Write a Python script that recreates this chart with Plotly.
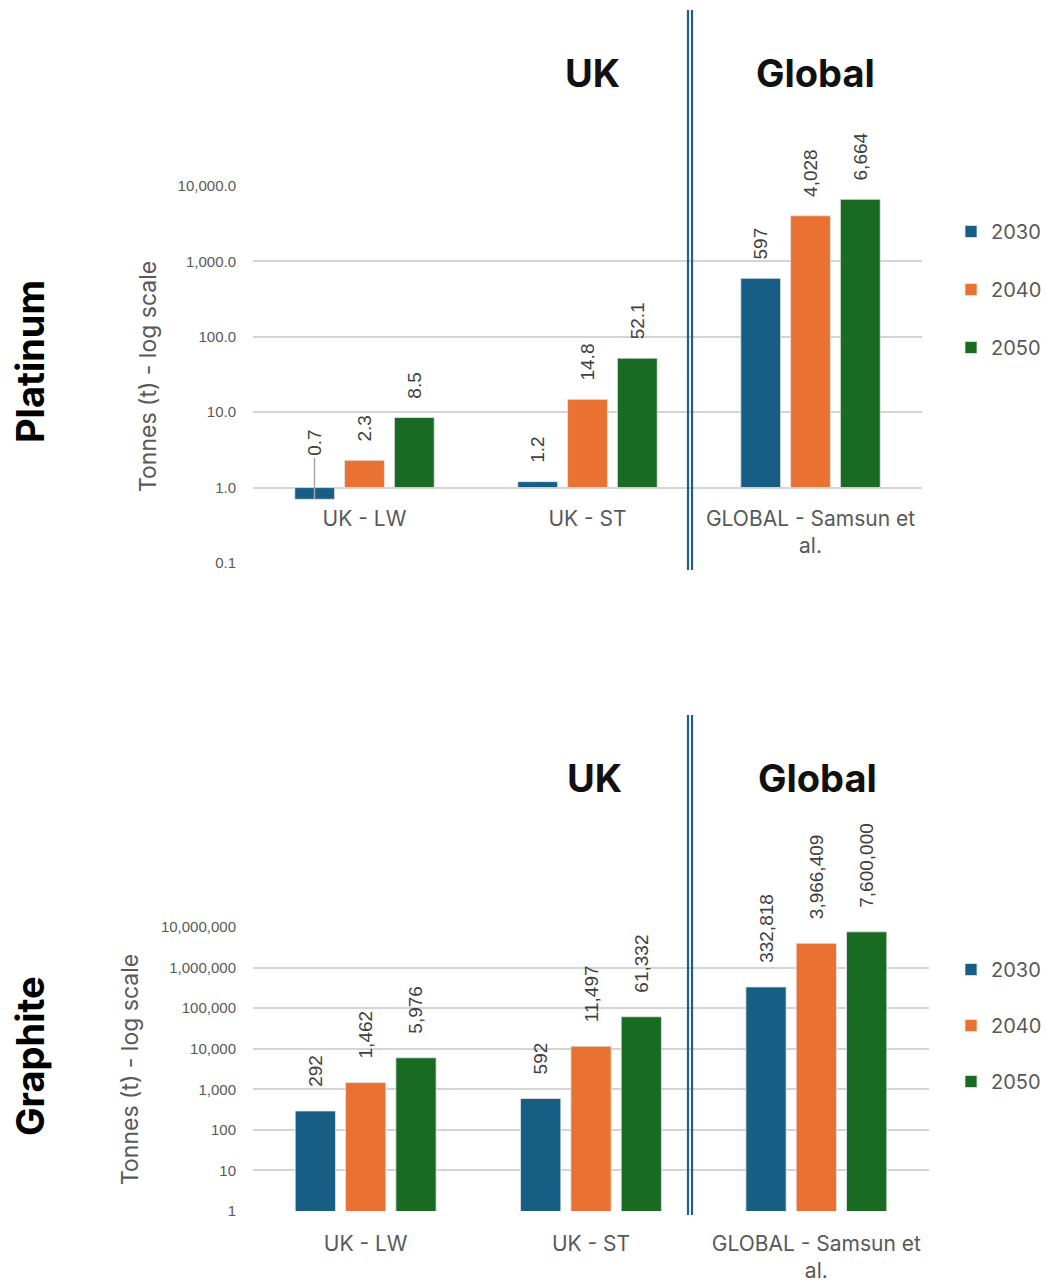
import numpy as np
import plotly.graph_objects as go

# ---------------- data ----------------
categories = ["UK - LW", "UK - ST", "GLOBAL - Samsun et al."]
category_ticktext = ["UK - LW", "UK - ST", "GLOBAL - Samsun et<br>al."]
years = ["2030", "2040", "2050"]

platinum_2030 = [0.7, 1.2, 597]
platinum_2040 = [2.3, 14.8, 4028]
platinum_2050 = [8.5, 52.1, 6664]

graphite_2030 = [292, 592, 332818]
graphite_2040 = [1462, 11497, 3966409]
graphite_2050 = [5976, 61332, 7600000]

platinum_ticks = [0.1, 1, 10, 100, 1000, 10000]
graphite_ticks = [1, 10, 100, 1000, 10000, 100000, 1000000, 10000000]

colors = {"2030": "#175E84", "2040": "#E97132", "2050": "#196B24"}

# ---------------- helpers ----------------
W, H = 1046, 1282
def fx(p):
    return p / W
def fy(p):
    return 1 - p / H

def fmt_pt(v):
    return f"{v:.1f}" if v < 100 else f"{v:,.0f}"

NBSP = "\u00a0"
PT_PAD = NBSP * 3   # gap between bar end and its (rotated) label
GR_PAD = NBSP * 4

GRAY = "#595959"
LABEL_FONT = "Liberation Sans, Arial, sans-serif"
TEXT_FONT = "Inter, Open Sans, sans-serif"

fig = go.Figure()

plat = {"2030": platinum_2030, "2040": platinum_2040, "2050": platinum_2050}
graph = {"2030": graphite_2030, "2040": graphite_2040, "2050": graphite_2050}

PT_BASE = 1.0  # category axis crosses at 1.0 on the platinum chart

for yr in years:
    vals = plat[yr]
    texts = [PT_PAD + fmt_pt(v) if v >= PT_BASE else "" for v in vals]
    fig.add_trace(go.Bar(
        x=categories, y=[v - PT_BASE for v in vals], base=PT_BASE,
        name=yr, marker=dict(color=colors[yr], line=dict(color="#E6E6E6", width=0.8)),
        text=texts, textposition="outside", textangle=-90, constraintext="none",
        textfont=dict(family=LABEL_FONT, size=19, color="#404040"),
        cliponaxis=False, xaxis="x", yaxis="y", legend="legend",
        legendgroup="p" + yr, customdata=vals,
        hovertemplate="%{x}<br>%{customdata}<extra>" + yr + "</extra>",
    ))

for yr in years:
    vals = graph[yr]
    fig.add_trace(go.Bar(
        x=categories, y=vals,
        name=yr, marker=dict(color=colors[yr], line=dict(color="#E6E6E6", width=0.8)),
        text=[GR_PAD + f"{v:,.0f}" for v in vals], textposition="outside", textangle=-90,
        constraintext="none",
        textfont=dict(family=LABEL_FONT, size=19, color="#404040"),
        cliponaxis=False, xaxis="x2", yaxis="y2", legend="legend2",
        legendgroup="g" + yr,
        hovertemplate="%{x}<br>%{y:,}<extra>" + yr + "</extra>",
    ))

top_dom = [fy(563), fy(186)]
bot_dom = [fy(1211), fy(927)]
pt_range = [np.log10(platinum_ticks[0]), np.log10(platinum_ticks[-1])]
gr_range = [np.log10(graphite_ticks[0]), np.log10(graphite_ticks[-1])]
cross_pos = top_dom[0] + (np.log10(PT_BASE) - pt_range[0]) / (pt_range[1] - pt_range[0]) * (top_dom[1] - top_dom[0])

grid = dict(showgrid=True, gridcolor="#D4D4D4", gridwidth=2, zeroline=False, showline=False,
            automargin=False)

fig.update_layout(
    width=W, height=H, margin=dict(l=0, r=0, t=0, b=0, autoexpand=False),
    paper_bgcolor="white", plot_bgcolor="white",
    barmode="group", bargap=0.33, bargroupgap=0.2,
    showlegend=True,
    xaxis=dict(domain=[fx(253), fx(922)], anchor="free", position=cross_pos,
               type="category", tickvals=categories, ticktext=category_ticktext,
               tickfont=dict(family=TEXT_FONT, size=21, color=GRAY),
               showgrid=False, zeroline=False, showline=False, ticks="",
               ticklabelstandoff=16, automargin=False),
    yaxis=dict(domain=top_dom, anchor="x", type="log", range=pt_range,
               tickvals=platinum_ticks, ticktext=[f"{t:,.1f}" for t in platinum_ticks],
               tickfont=dict(family=LABEL_FONT, size=15, color=GRAY),
               ticklabelstandoff=16, **grid),
    xaxis2=dict(domain=[fx(253), fx(929)], anchor="y2",
                type="category", tickvals=categories, ticktext=category_ticktext,
                tickfont=dict(family=TEXT_FONT, size=21, color=GRAY),
                showgrid=False, zeroline=False, showline=False, ticks="",
                ticklabelstandoff=18, automargin=False),
    yaxis2=dict(domain=bot_dom, anchor="x2", type="log", range=gr_range,
                tickvals=graphite_ticks, ticktext=[f"{t:,.0f}" for t in graphite_ticks],
                tickfont=dict(family=LABEL_FONT, size=15, color=GRAY),
                ticklabelstandoff=16, **grid),
    legend=dict(x=fx(951), y=fy(212), xanchor="left", yanchor="top",
                font=dict(family=TEXT_FONT, size=20, color=GRAY),
                tracegroupgap=29, bgcolor="rgba(0,0,0,0)", itemwidth=30),
    legend2=dict(x=fx(951), y=fy(950), xanchor="left", yanchor="top",
                 font=dict(family=TEXT_FONT, size=20, color=GRAY),
                 tracegroupgap=27, bgcolor="rgba(0,0,0,0)", itemwidth=30),
)

# separators (double vertical lines)
sep_color = "#1F5F85"
for (y0, y1, xs) in [(570, 10, (688, 692)), (1215, 715, (688, 692))]:
    for xp in xs:
        fig.add_shape(type="line", xref="paper", yref="paper",
                      x0=fx(xp), x1=fx(xp), y0=fy(y0), y1=fy(y1),
                      line=dict(color=sep_color, width=2.2))

ann = []
# section titles
for txt, xp, yp in [("UK", 592, 73), ("Global", 815, 73), ("UK", 594, 778), ("Global", 817, 778)]:
    ann.append(dict(text="<b>" + txt + "</b>", x=fx(xp), y=fy(yp), xref="paper", yref="paper",
                    showarrow=False, font=dict(family=TEXT_FONT, size=38, color="#111111"),
                    xanchor="center", yanchor="middle"))
# mineral labels
for txt, yp in [("Platinum", 362), ("Graphite", 1056)]:
    ann.append(dict(text="<b>" + txt + "</b>", x=fx(30), y=fy(yp), xref="paper", yref="paper",
                    showarrow=False, textangle=-90, font=dict(family=TEXT_FONT, size=38, color="#000000"),
                    xanchor="center", yanchor="middle"))
# axis titles
for xp, yp in [(148, 377), (130, 1070)]:
    ann.append(dict(text="Tonnes (t) - log scale", x=fx(xp), y=fy(yp), xref="paper", yref="paper",
                    showarrow=False, textangle=-90, font=dict(family=TEXT_FONT, size=23, color=GRAY),
                    xanchor="center", yanchor="middle"))
# label for the bar below the axis crossing
small_v = platinum_2030[0]
ann.append(dict(text=fmt_pt(small_v), x=categories[0], y=np.log10(small_v), xref="x", yref="y",
                xshift=-50, showarrow=True, arrowhead=0, arrowwidth=1.5, arrowcolor="#A6A6A6",
                ax=0, ay=-56, textangle=-90,
                font=dict(family=LABEL_FONT, size=19, color="#404040")))
fig.update_layout(annotations=ann)

fig.write_html("out.html")
